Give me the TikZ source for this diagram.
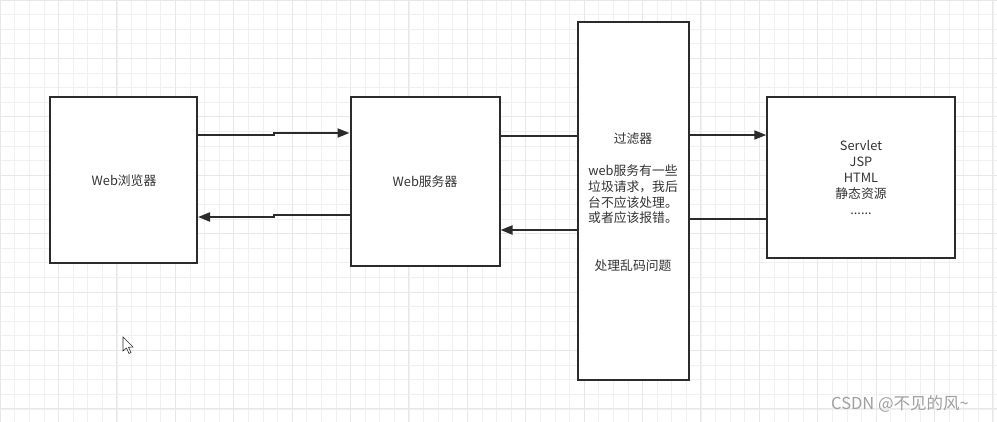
\documentclass[tikz,border=0pt]{standalone}
\usepackage{fontspec}
\setmainfont{Noto Sans CJK SC}
\usetikzlibrary{arrows.meta}
\definecolor{ink}{HTML}{2B2B2B}
\definecolor{txt}{HTML}{333333}
\definecolor{gridc}{HTML}{F0F0F0}
\definecolor{gridm}{HTML}{E8E8E8}
\tikzset{
  boxnode/.style={draw=ink, line width=2pt, fill=white, rectangle, inner sep=0pt},
  lbl/.style={text=txt, font=\fontsize{12.8}{15.8}\selectfont, align=center, inner sep=0pt},
  arr/.style={draw=ink, line width=1.8pt, -{Triangle[length=12pt,width=9pt]}},
  ln/.style={draw=ink, line width=1.8pt},
}
\begin{document}
\begin{tikzpicture}[x=1pt,y=-1pt]
\useasboundingbox (0,0) rectangle (997,422);
\fill[white] (0,0) rectangle (997,422);
% faint background grid
\foreach \gx in {0,14.6,...,997} \draw[gridc, line width=0.6pt] (\gx,0) -- (\gx,422);
\foreach \gy in {0,14.6,...,422} \draw[gridc, line width=0.6pt] (0,\gy) -- (997,\gy);
\foreach \gx in {0,58.4,...,997} \draw[gridm, line width=0.8pt] (\gx,0) -- (\gx,422);
\foreach \gy in {0,58.4,...,422} \draw[gridm, line width=0.8pt] (0,\gy) -- (997,\gy);

% boxes
\node[boxnode, minimum width=147pt, minimum height=166pt] (A) at (123.5,180) {};
\node[boxnode, minimum width=149pt, minimum height=169pt] (B) at (425,181.5) {};
\node[boxnode, minimum width=111pt, minimum height=357pt] (F) at (633.3,201) {};
\node[boxnode, minimum width=188pt, minimum height=161pt] (S) at (861.3,177.3) {};

% labels
\node[lbl] (tA) at (124,181) {Web浏览器};
\node[lbl] (tB) at (425,182) {Web服务器};
\node[lbl] (tF1) at (633,138.3) {过滤器};
\node[lbl] (tF2) at (633,194.4) {web服务有一些\\垃圾请求，我后\\台不应该处理。\\或者应该报错。};
\node[lbl] (tF3) at (633,265.7) {处理乱码问题};
\node[lbl] (tS) at (861,177.5) {Servlet\\JSP\\HTML\\静态资源\\......};

% connectors
\draw[arr] (A.east |- 0,135) -- (274,135) -- (274,133) -- (B.west |- 0,133);
\draw[arr] (B.west |- 0,215) -- (274,215) -- (274,217) -- (A.east |- 0,217);
\draw[ln] (B.east |- 0,136) -- (F.west |- 0,136);
\draw[arr] (F.west |- 0,230) -- (B.east |- 0,230);
\draw[arr] (F.east |- 0,135) -- (S.west |- 0,135);
\draw[ln] (S.west |- 0,219) -- (F.east |- 0,219);

% mouse cursor
\draw[ink, line width=0.6pt, fill=white] (123,337) -- (123,351) -- (126.5,348) -- (129,353.5) -- (131,352.5) -- (128.5,347.3) -- (133,347) -- cycle;

% watermark
\node[text=gray!75, font=\fontsize{16.5}{19}\selectfont, inner sep=0pt] (wm) at (900,404) {CSDN @不见的风\textasciitilde};
\end{tikzpicture}
\end{document}
